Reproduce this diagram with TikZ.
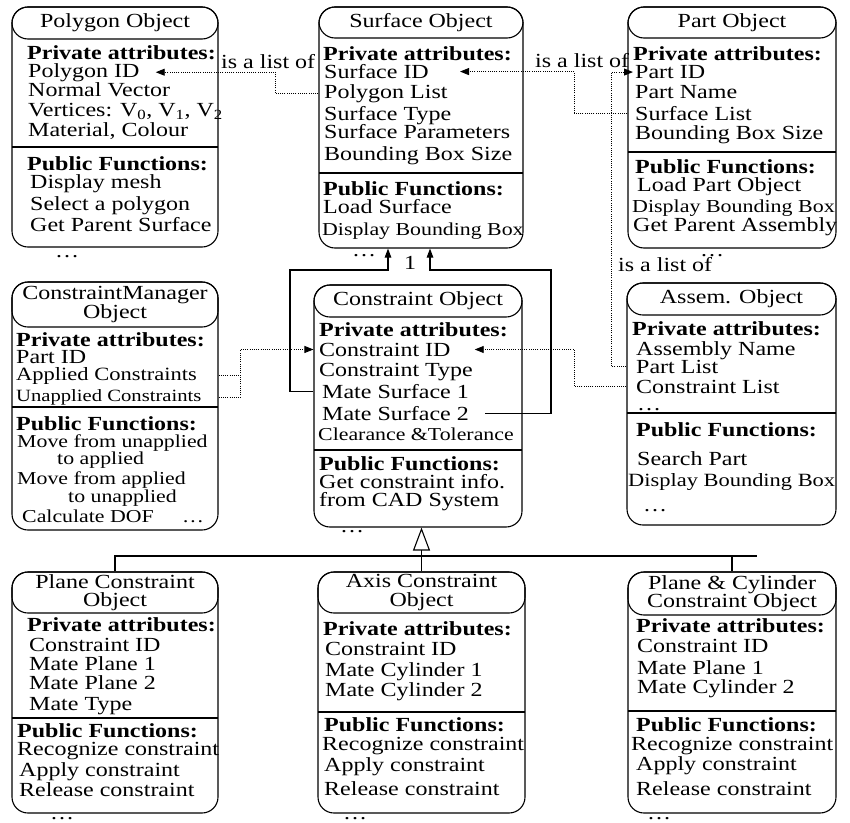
\documentclass[tikz,border=0pt]{standalone}
\usepackage{fontspec}
\setmainfont{Liberation Serif}[FakeStretch=1.2]
\usetikzlibrary{arrows.meta}
\newcommand{\fsz}[1]{\fontsize{#1}{#1}\selectfont}
% object box: name, left, top, right, bottom, header bottom, divider, title
\newcommand{\objbox}[8]{%
  \node[objbody, minimum width={(#4-#2)*1pt}, minimum height={(#5-#3)*1pt}]
    (#1) at ({(#2+#4)/2},{(#3+#5)/2}) {};
  \node[objhead, minimum width={(#4-#2)*1pt}, minimum height={(#6-#3)*1pt},
    anchor=north] (#1-h) at (#1.north) {#8};
  \draw[objline] (#2,#7) -- (#4,#7);
}

\begin{document}
\begin{tikzpicture}[
  x=1pt, y=-1pt,
  font=\fontsize{20}{20}\selectfont,
  objbody/.style={draw,line width=1.1pt,rounded corners=16pt,inner sep=0pt},
  objhead/.style={draw,line width=1.1pt,rounded corners=16pt,inner sep=2pt,
    align=center,font=\fontsize{20}{18.3}\selectfont},
  txt/.style={anchor=base west,inner sep=0pt},
  hd/.style={txt,font=\fontsize{20}{20}\selectfont\bfseries},
  objline/.style={line width=1.1pt},
  dotl/.style={line width=0.9pt,dash pattern=on 1pt off 1.2pt},
  link/.style={dotl,-{Triangle[length=9pt,width=7pt]}},
  mate/.style={objline,-{Triangle[length=9pt,width=6.5pt]}},
  inherit/.style={objline,-{Triangle[open,length=23pt,width=17pt]}}
]
  \useasboundingbox (0,0) rectangle (850,822);

  % Polygon Object
  \objbox{poly}{12}{7}{218}{247}{39}{147}{Polygon Object}
  \node[hd] (poly-p) at (27,59) {Private attributes:};
  \foreach \y/\lbl [count=\i] in {77/Polygon ID, 96/Normal Vector,
      {116.5/Vertices: V\textsubscript{0}, V\textsubscript{1}, V\textsubscript{2}},
      {136/Material, Colour}}
    \node[txt] (poly-a\i) at (28,\y) {\lbl};
  \node[hd] (poly-f) at (27,170) {Public Functions:};
  \foreach \y/\lbl [count=\i] in {188.5/Display mesh, 210/Select a polygon,
      231.5/Get Parent Surface}
    \node[txt] (poly-m\i) at (30,\y) {\lbl};
  \node[txt] (poly-d) at (55,257) {\dots};

  % Surface Object
  \objbox{surf}{319}{7}{523}{248}{38}{173}{Surface Object}
  \node[hd] (surf-p) at (323,60) {Private attributes:};
  \foreach \y/\lbl [count=\i] in {78.5/Surface ID, 98.5/Polygon List,
      120/Surface Type, 138.5/Surface Parameters, 160/Bounding Box Size}
    \node[txt] (surf-a\i) at (324,\y) {\lbl};
  \node[hd] (surf-f) at (323,195) {Public Functions:};
  \node[txt] (surf-m1) at (323,213.5) {Load Surface};
  \node[txt] (surf-m2) at (322,235) {\fsz{18.2}Display Bounding Box};
  \node[txt] (surf-d) at (352,256) {\dots};
  \node[txt] (one) at (404,269) {1};

  % Part Object
  \objbox{part}{628}{7}{836}{248}{38}{152}{Part Object}
  \node[hd] (part-p) at (633,60) {Private attributes:};
  \foreach \y/\lbl [count=\i] in {78.5/Part ID, 98.5/Part Name,
      120/Surface List, 139.5/Bounding Box Size}
    \node[txt] (part-a\i) at (635,\y) {\lbl};
  \node[hd] (part-f) at (635,173.5) {Public Functions:};
  \foreach \x/\y/\lbl [count=\i] in {637/191.5/Load Part Object,
      632/212.5/\fsz{18.3}Display Bounding Box, 633/231/Get Parent Assembly}
    \node[txt] (part-m\i) at (\x,\y) {\lbl};
  \node[txt] (part-d) at (700,256) {\dots};

  % ConstraintManager Object
  \objbox{cm}{12}{282}{218}{530}{327}{407}{ConstraintManager\\Object}
  \node[hd] (cm-p) at (16,346) {Private attributes:};
  \foreach \y/\lbl [count=\i] in {363/Part ID,
      380/\fsz{18.75}Applied Constraints, 401.7/\fsz{17.2}Unapplied Constraints}
    \node[txt] (cm-a\i) at (16,\y) {\lbl};
  \node[hd] (cm-f) at (16,430.5) {Public Functions:};
  \foreach \x/\y/\lbl [count=\i] in {17/447.5/Move from unapplied,
      57/464/to applied, 17/484/Move from applied, 68/502/to unapplied,
      22/522.5/Calculate DOF, 182/522.5/\dots}
    \node[txt] (cm-m\i) at (\x,\y) {\fsz{18.2}\lbl};

  % Constraint Object
  \objbox{cons}{314}{285}{522}{527}{317}{450}{Constraint Object}
  \node[hd] (cons-p) at (319,336) {Private attributes:};
  \foreach \x/\y/\lbl [count=\i] in {319/356/Constraint ID,
      319/376/Constraint Type, 322/398/Mate Surface 1, 322/420/Mate Surface 2,
      318/440/\fsz{18.2}Clearance \&Tolerance}
    \node[txt] (cons-a\i) at (\x,\y) {\lbl};
  \node[hd] (cons-f) at (319,470) {Public Functions:};
  \node[txt] (cons-m1) at (319,488) {Get constraint info.};
  \node[txt] (cons-m2) at (319,506.7) {from CAD System};
  \node[txt] (cons-d) at (340,532) {\dots};

  % Assem. Object
  \objbox{assem}{627}{283}{836}{525}{315}{413}{Assem. Object}
  \node[hd] (assem-p) at (632,335) {Private attributes:};
  \foreach \y/\lbl [count=\i] in {355/Assembly Name, 373.3/Part List,
      393.3/Constraint List}
    \node[txt] (assem-a\i) at (636,\y) {\lbl};
  \node[txt] (assem-d1) at (637,410) {\dots};
  \node[hd] (assem-f) at (636,436.7) {Public Functions:};
  \node[txt] (assem-m1) at (637,465) {Search Part};
  \node[txt] (assem-m2) at (628,486.7) {\fsz{18.7}Display Bounding Box};
  \node[txt] (assem-d2) at (643,511) {\dots};

  % Plane Constraint Object
  \objbox{plane}{12}{572}{218}{813}{613}{718}{Plane Constraint\\Object}
  \node[hd] (plane-p) at (27,631.7) {Private attributes:};
  \foreach \y/\lbl [count=\i] in {651.7/Constraint ID, 670/Mate Plane 1,
      689.3/Mate Plane 2, 710/Mate Type}
    \node[txt] (plane-a\i) at (29,\y) {\lbl};
  \node[hd] (plane-f) at (17,737.5) {Public Functions:};
  \foreach \x/\y/\lbl [count=\i] in {17/755.5/Recognize constraint,
      19/776.7/Apply constraint, 19/796.7/Release constraint}
    \node[txt] (plane-m\i) at (\x,\y) {\lbl};
  \node[txt] (plane-d) at (50,819) {\dots};

  % Axis Constraint Object
  \objbox{axis}{318}{572}{525}{813}{613}{712}{Axis Constraint\\Object}
  \node[hd] (axis-p) at (323,635) {Private attributes:};
  \foreach \y/\lbl [count=\i] in {655/Constraint ID, 676.7/Mate Cylinder 1,
      696.7/Mate Cylinder 2}
    \node[txt] (axis-a\i) at (325,\y) {\lbl};
  \node[hd] (axis-f) at (324,731.7) {Public Functions:};
  \foreach \x/\y/\lbl [count=\i] in {322/750/Recognize constraint,
      324/771.7/Apply constraint, 324/795/Release constraint}
    \node[txt] (axis-m\i) at (\x,\y) {\lbl};
  \node[txt] (axis-d) at (343,819) {\dots};

  % Plane & Cylinder Constraint Object
  \objbox{pcc}{628}{572}{836}{813}{615}{711}{Plane \& Cylinder\\Constraint Object}
  \node[hd] (pcc-p) at (636,632.7) {Private attributes:};
  \foreach \y/\lbl [count=\i] in {652.7/Constraint ID, 674.3/Mate Plane 1,
      693.3/Mate Cylinder 2}
    \node[txt] (pcc-a\i) at (637,\y) {\lbl};
  \node[hd] (pcc-f) at (636,731.7) {Public Functions:};
  \foreach \x/\y/\lbl [count=\i] in {631/750/Recognize constraint,
      636/770/Apply constraint, 636/795/Release constraint}
    \node[txt] (pcc-m\i) at (\x,\y) {\lbl};
  \node[txt] (pcc-d) at (647,819) {\dots};

  % is a list of
  \node[txt] (lst1) at (221,68.5) {is a list of};
  \node[txt] (lst2) at (535,67) {is a list of};
  \node[txt] (lst3) at (618,271) {is a list of};
  \draw[link] (surf.west |- surf-a2.west) -- ++(-43,0)
    |- ([xshift=16pt]poly-a1.east);
  \draw[link] (part.west |- part-a3.west) -- ++(-53,0)
    |- ([xshift=31pt]surf-a1.east);
  \draw[link] (assem.west |- assem-a2.west) -- ++(-15,0)
    |- ([xshift=-2pt]part-a1.west);
  \draw[link] (assem.west |- assem-a3.west) -- ++(-52,0)
    |- ([xshift=24pt]cons-a1.east);
  \draw[dotl] (cm.east |- cm-a2.east) -- ++(22,0);
  \draw[link] (cm.east |- cm-a3.east) -- ++(22,0) |- (cons.west |- cons-a1.west);

  % mate surfaces
  \coordinate (ml) at (290,270);
  \coordinate (mr) at (551,270);
  \draw[mate] (cons.west |- cons-a3.west) -| (ml) -| ([xshift=-33pt]surf.south);
  \draw[mate] ([xshift=16pt]cons-a4.east) -| (mr) -| ([xshift=9pt]surf.south);

  % inheritance
  \coordinate (busR) at (757,556);
  \draw[objline] (plane.north) |- (busR);
  \draw[objline] (pcc.north) -- (pcc.north |- busR);
  \draw[inherit] (axis.north) -- (axis.north |- cons.south);
\end{tikzpicture}
\end{document}
